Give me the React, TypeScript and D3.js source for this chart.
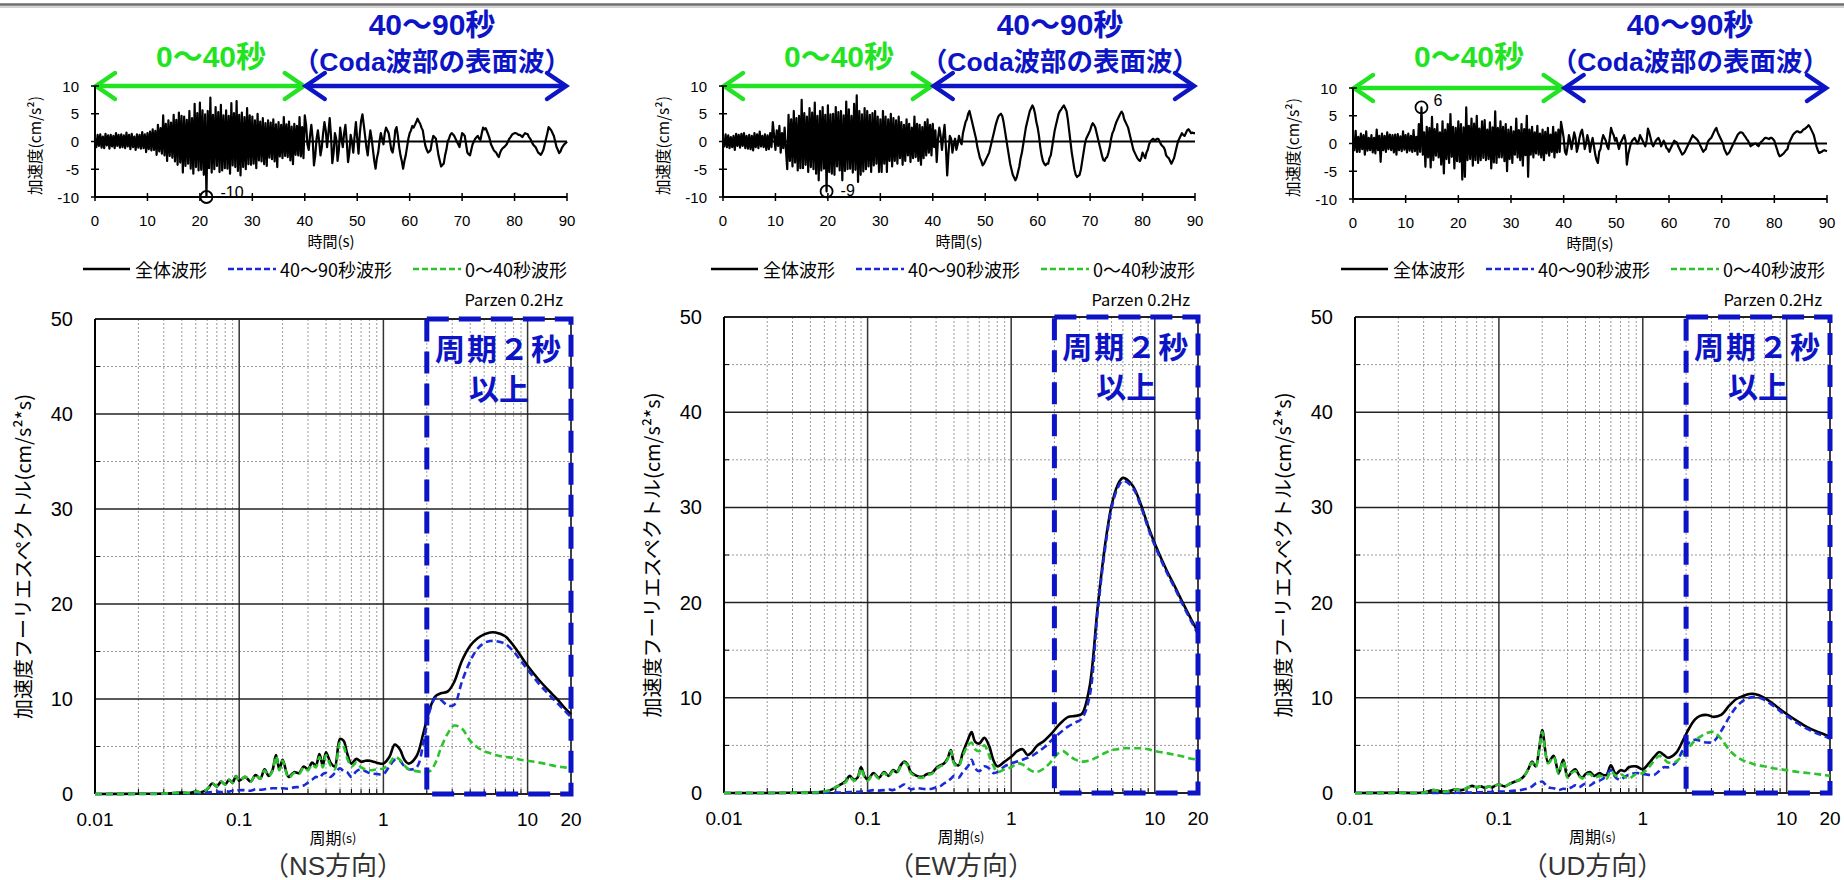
import React from 'react';
import * as d3 from 'd3';

// ---------------- DATA ----------------
const WAVE_DT = 0.25; // s between samples
const WAVE_NS = [
  0.5, -1.0, 1.2, -0.8, 1.3, -1.1, 0.9, -1.2, 1.4, -0.7, 1.1, -1.3, 1.2, -0.9, 1.0, -1.2, 1.5, -0.8, 1.2, -1.1,
  1.3, -1.0, 1.1, -1.2, 1.6, -0.9, 1.2, -1.4, 1.4, -1.0, 0.9, -1.5, 1.3, -1.1, 1.2, -1.3, 1.7, -1.2, 1.3, -1.9,
  1.5, -1.4, 1.8, -1.6, 2.2, -1.5, 1.9, -2.4, 3.0, -1.8, 2.4, -2.2, 4.7, -2.5, 3.2, -3.5, 3.8, -2.6, 3.4, -2.9,
  4.8, -3.6, 3.9, -4.2, 5.2, -3.8, 4.6, -5.6, 4.5, -4.4, 3.9, -4.0, 5.5, -4.9, 4.2, -5.8, 6.8, -4.6, 5.1, -5.2,
  7.0, -5.1, 5.6, -6.0, 4.9, -10.0, 5.5, -4.8, 7.9, -5.6, 4.8, -5.0, 6.2, -4.4, 5.3, -5.5, 6.6, -5.2, 4.7, -4.8,
  5.6, -4.9, 4.6, -5.8, 6.9, -4.3, 5.1, -4.6, 7.3, -5.3, 4.8, -6.1, 5.2, -4.6, 4.4, -5.0, 6.0, -4.1, 4.7, -4.2,
  4.5, -4.0, 3.8, -4.8, 5.0, -3.4, 3.6, -3.6, 4.2, -4.1, 3.3, -4.4, 3.8, -2.9, 3.4, -3.2, 4.0, -3.6, 3.1, -4.6,
  3.5, -2.7, 3.0, -3.0, 4.4, -2.6, 3.1, -2.8, 3.6, -3.4, 2.7, -4.1, 3.2, -2.4, 2.8, -2.5, 4.4, -2.7, 2.6, -3.0,
  4.7, 3.0, -0.5, -1.5, 1.0, 3.0, 0.5, -4.3, -2.5, 0.5, 2.0, 0.0, -2.5, -1.0, 1.5, 3.5, 2.0, -1.0, 1.5, 4.2,
  1.0, -3.9, -2.0, 1.5, 0.5, -3.5, -1.5, 2.5, 0.5, -1.0, 1.5, 3.0, 0.0, -3.7, -2.0, 1.2, 0.0, -2.0, 1.0, 3.5,
  0.5, -2.2, 1.5, 3.8, 4.9, 3.0, 1.0, -1.0, -2.5, 0.0, 2.0, 0.5, -1.5, -3.5, -4.9, -3.0, -2.0, 0.0, 1.5, 0.5,
  -0.5, 1.5, 2.5, 2.0, 1.5, 0.0, -1.5, -2.0, -0.5, 2.0, 2.6, 1.0, -1.0, -2.5, -3.5, -4.9, -3.5, -2.5, -1.0, 0.5,
  1.5, 2.0, 2.8, 2.5, 3.0, 3.5, 4.1, 3.6, 3.2, 2.5, 2.0, 0.5, -0.8, -1.5, -2.0, -1.8, -1.5, 0.0, 1.0, 0.8,
  0.5, -1.0, -2.5, -3.5, -4.5, -4.2, -4.0, -2.5, -1.5, 0.0, 0.5, 1.2, 1.5, 1.3, 1.0, 0.5, 0.0, -0.5, -1.0, 0.3,
  1.5, 1.3, 1.0, -0.5, -2.0, -2.3, -2.5, -1.5, -0.5, 0.0, 0.5, 0.8, 1.0, 0.5, 0.3, 1.5, 2.5, 2.2, 2.4, 1.8,
  1.2, 0.5, -0.5, -1.0, -1.5, -1.8, -2.0, -2.5, -2.8, -2.0, -1.5, -1.2, -1.0, -0.8, -0.5, 0.0, 0.5, 0.8, 1.2, 1.4,
  1.5, 1.5, 1.4, 1.2, 1.2, 1.0, 0.8, 1.2, 1.5, 1.4, 1.3, 0.8, 0.5, 0.0, -0.5, -0.8, -1.0, -1.5, -2.0, -2.2,
  -2.4, -2.0, -1.5, -0.5, 0.5, 1.5, 2.6, 2.3, 2.0, 1.5, 1.0, 0.0, -1.0, -1.5, -2.1, -1.8, -1.2, -0.8, -0.5, -0.3,
  0.0,
];
const WAVE_EW = [
  0.5, -0.9, 1.3, -1.0, 1.1, -1.2, 0.8, -1.0, 1.0, -1.5, 1.4, -0.8, 1.2, -1.1, 1.4, -0.8, 1.5, -1.2, 1.0, -1.3,
  1.2, -1.4, 1.0, -1.6, 1.5, -1.0, 1.3, -1.2, 1.8, -0.9, 1.0, -1.0, 1.3, -1.5, 1.1, -1.4, 1.5, -1.0, 3.5, 1.0,
  -1.5, 2.0, -0.8, 2.8, -2.0, 1.5, -1.2, 2.5, -1.5, -5.0, 4.8, -3.5, 4.0, -4.5, 5.5, -3.8, 4.2, -5.2, 4.6, -4.8,
  7.5, -4.8, 5.1, -4.2, 4.5, -5.5, 6.0, -4.6, 5.2, -5.0, 7.0, -5.8, 4.6, -7.0, 5.5, -5.2, 6.2, -4.9, 4.8, -9.0,
  6.5, -5.5, 4.9, -5.8, 5.0, -6.0, 6.2, -4.5, 5.3, -5.2, 5.5, -7.0, 4.7, -5.3, 7.2, -5.0, 5.8, -4.9, 4.6, -5.6,
  6.8, -5.1, 8.3, -7.3, 5.5, -6.0, 4.9, -5.4, 6.0, -5.0, 5.5, -4.5, 4.8, -5.5, 5.1, -4.3, 5.5, -4.0, 4.5, -5.5,
  4.0, -5.5, 5.5, -4.0, 4.5, -5.5, 4.0, -3.5, 5.0, -4.5, 4.2, -3.5, 3.8, -4.0, 4.5, -3.0, 3.5, -4.2, 3.0, -3.5,
  4.0, -2.5, 3.2, -3.7, 2.5, -3.0, 4.5, -2.8, 3.2, -3.5, 3.0, -4.2, 2.6, -3.0, 3.5, -2.5, 4.0, -2.0, 3.0, -2.5,
  3.2, -1.0, 2.0, -3.7, 0.5, 2.5, 1.0, -1.5, 1.0, 3.0, -1.0, -6.1, -2.0, 1.0, 0.5, -2.0, -0.5, 0.5, -1.5, -0.5,
  1.0, 0.0, -0.5, 1.5, 2.5, 3.5, 4.0, 5.0, 5.5, 4.5, 3.5, 2.5, 1.5, 0.5, -1.0, -2.0, -3.0, -3.5, -4.3, -4.0,
  -3.5, -3.0, -2.5, -2.0, -1.0, 0.0, 1.0, 2.0, 3.0, 3.8, 4.5, 4.8, 5.0, 4.6, 3.5, 2.0, 0.5, -1.0, -2.5, -4.0,
  -5.0, -6.0, -6.5, -7.0, -6.5, -5.5, -4.5, -3.0, -2.0, -0.5, 1.0, 2.5, 3.5, 4.5, 5.5, 6.0, 6.5, 6.0, 5.0, 3.5,
  2.5, 1.0, -1.0, -2.5, -3.5, -4.0, -4.3, -4.0, -4.0, -3.0, -2.5, -1.0, 0.5, 2.0, 3.0, 4.0, 5.0, 5.5, 5.8, 6.2,
  6.5, 6.0, 5.5, 4.0, 2.0, 0.0, -2.0, -3.5, -5.0, -6.0, -6.4, -6.2, -6.0, -5.0, -3.5, -2.0, -0.5, 0.5, 1.0, 1.5,
  2.0, 2.8, 3.3, 3.0, 2.5, 1.5, 0.5, -0.5, -1.5, -2.5, -3.3, -3.5, -3.0, -2.8, -2.0, -1.0, 0.5, 1.5, 2.0, 2.8,
  3.5, 4.0, 4.5, 5.0, 5.4, 5.0, 4.0, 3.5, 3.0, 2.5, 1.5, 0.5, -0.5, -1.5, -2.0, -2.5, -3.0, -3.3, -3.5, -3.0,
  -2.0, -2.5, -3.0, -2.0, -1.5, -0.5, 0.0, 0.3, 0.5, 0.3, 0.3, 0.5, 0.5, 0.0, -0.5, -0.8, -1.0, -1.5, -2.5, -2.8,
  -3.0, -3.5, -4.0, -3.5, -3.0, -2.0, -1.0, 0.0, 0.5, 1.0, 1.5, 1.2, 1.0, 1.5, 2.0, 2.2, 1.9, 1.5, 1.6, 1.5,
  1.5,
];
const WAVE_UD = [
  0.5, -1.2, 2.3, -1.5, 1.2, -1.5, 1.8, -1.0, 1.5, -2.0, 2.2, -1.3, 1.0, -1.2, 1.5, -1.6, 1.0, -1.8, 2.5, -1.2,
  1.4, -3.3, 1.8, -1.2, 1.4, -1.5, 2.0, -1.0, 1.6, -1.2, 1.5, -1.6, 1.6, -2.0, 1.7, -1.2, 1.3, -1.4, 2.2, -1.1,
  1.5, -1.6, 1.8, -1.3, 1.4, -1.5, 2.4, -1.4, 1.2, -2.0, 3.5, -1.5, 6.5, -2.0, 2.0, -4.2, 3.0, -2.5, 2.8, -4.3,
  4.8, -3.0, 2.6, -2.2, 3.5, -2.5, 2.0, -3.8, 4.0, -5.4, 2.5, -2.8, 3.5, -3.5, 5.3, -2.4, 3.0, -4.5, 2.8, -3.2,
  4.0, -3.3, 3.5, -6.5, 2.9, -6.0, 6.5, -3.0, 3.2, -2.8, 4.5, -4.0, 3.6, -3.0, 5.0, -3.5, 2.7, -3.0, 4.0, -2.6,
  4.2, -3.0, 2.5, -2.8, 3.8, -4.5, 2.9, -3.4, 5.8, -3.5, 2.8, -2.5, 4.0, -2.5, 3.0, -3.2, 3.5, -5.0, 2.5, -2.8,
  3.0, -3.5, 2.2, -2.0, 4.5, -2.5, 2.4, -3.0, 3.5, -4.0, 2.6, -2.1, 5.0, -6.0, 2.5, -2.0, 3.0, -2.5, 2.0, -1.8,
  3.2, -2.0, 1.8, -2.5, 2.5, -3.0, 2.1, -1.8, 2.8, -2.2, 1.6, -1.5, 3.0, -2.5, 2.0, -1.6, 2.5, -1.5, 3.9, 2.5,
  1.0, -1.5, -2.0, -0.5, 1.5, 0.5, -1.0, 0.5, 2.0, 1.0, -1.5, -0.5, 1.0, 2.0, 2.5, 1.0, -1.0, 0.0, 1.5, 0.5,
  -1.5, 0.0, 1.0, -0.5, -2.0, -3.0, -3.5, -1.5, -1.0, 0.5, 1.5, 1.0, 0.5, -0.5, -1.0, 1.0, 2.8, 2.0, 1.5, 0.5,
  1.0, 0.0, -1.0, 0.0, 0.5, 1.0, 1.5, 0.5, -3.8, -2.0, -1.0, 0.0, 0.5, 0.8, 1.0, 0.5, 0.0, 0.5, 1.5, 1.0,
  0.5, 0.0, -0.5, 0.5, 2.7, 2.0, 1.0, 0.0, -0.5, 0.0, 0.5, 0.8, 1.0, 0.5, -0.5, 0.0, 0.5, 0.0, -0.8, -1.0,
  -1.5, -1.0, -0.5, 0.0, 0.5, 0.3, 0.2, -0.5, -1.0, -1.5, -2.0, -1.8, -1.5, -1.0, -0.5, 0.0, 0.5, 1.0, 1.5, 1.2,
  1.0, 0.8, 0.5, 0.0, -0.5, -1.0, -1.5, -1.2, -1.0, 0.0, 0.5, 0.8, 1.0, 1.5, 2.0, 2.5, 2.8, 2.0, 1.5, 1.0,
  0.5, 0.0, -1.0, -1.5, -2.0, -1.8, -1.5, -1.0, -0.5, 0.0, 0.5, 1.0, 1.5, 1.8, 2.0, 2.0, 1.9, 1.5, 1.2, 0.8,
  0.5, 0.0, -0.5, -0.3, -0.2, 0.0, 0.0, -0.3, -0.5, 0.0, 0.3, 0.5, 0.8, 1.0, 1.0, 0.9, 0.8, 1.0, 1.0, 0.8,
  0.5, -0.3, -1.0, -1.8, -2.3, -2.2, -2.0, -1.8, -1.5, -1.2, -1.0, 0.0, 0.5, 1.0, 1.5, 1.8, 2.0, 2.2, 2.2, 2.0,
  2.0, 2.2, 2.5, 2.6, 2.8, 3.0, 3.3, 3.0, 2.5, 2.0, 1.5, 0.5, -0.5, -1.2, -1.7, -1.6, -1.5, -1.3, -1.2, -1.3,
  -1.4,
];
const WAVE_X_TICKS = [0, 10, 20, 30, 40, 50, 60, 70, 80, 90];
const WAVE_Y_TICKS = [10, 5, 0, -5, -10];
// peak markers: time (s), value, label
const PEAK_NS = { t: 21.25, v: -10, label: '-10' };
const PEAK_EW = { t: 19.75, v: -9, label: '-9' };
const PEAK_UD = { t: 13, v: 6.5, label: '6' };

const PERIODS = [
  0.01, 0.02, 0.03, 0.035, 0.04, 0.045, 0.05, 0.055, 0.06, 0.065,
  0.07, 0.075, 0.08, 0.085, 0.09, 0.095, 0.1, 0.11, 0.12, 0.13,
  0.14, 0.15, 0.16, 0.17, 0.18, 0.19, 0.2, 0.22, 0.24, 0.26,
  0.28, 0.3, 0.32, 0.34, 0.36, 0.38, 0.4, 0.43, 0.46, 0.5,
  0.53, 0.56, 0.6, 0.65, 0.7, 0.75, 0.8, 0.9, 1.0, 1.1,
  1.2, 1.3, 1.4, 1.5, 1.7, 1.9, 2.1, 2.3, 2.5, 2.8,
  3.1, 3.5, 4, 4.5, 5, 5.5, 6, 7, 8, 9,
  10, 12, 14, 16, 18, 20,
];
const NS_ALL = [
  0, 0.02, 0.05, 0.1, 0.15, 0.1, 0.25, 0.2, 0.5, 1.1,
  0.8, 1.3, 1.0, 1.5, 1.2, 1.9, 1.4, 1.8, 1.3, 2.0,
  1.6, 2.6, 1.9, 2.5, 4.1, 2.6, 3.6, 1.8, 2.3, 2.2,
  2.9, 2.6, 3.3, 3.0, 4.2, 3.0, 4.4, 3.3, 2.9, 5.8,
  5.6, 4.3, 3.2, 3.7, 3.4, 3.5, 3.5, 3.3, 3.2, 3.9,
  5.2, 4.7, 3.6, 3.2, 4.0, 6.5, 9.0, 10.3, 10.6, 10.8,
  11.8, 14.0, 15.6, 16.4, 16.8, 17.0, 17.0, 16.6, 15.6, 14.5,
  13.5, 12.0, 10.9, 10.0, 9.1, 8.4,
];
const NS_LATE = [
  0, 0, 0.02, 0.05, 0.05, 0.05, 0.1, 0.1, 0.15, 0.2,
  0.25, 0.2, 0.3, 0.25, 0.35, 0.3, 0.4, 0.4, 0.35, 0.5,
  0.45, 0.5, 0.55, 0.6, 0.6, 0.55, 0.6, 0.55, 0.7, 0.75,
  0.9, 1.2, 1.5, 1.8, 1.7, 2.1, 2.2, 1.8, 2.2, 2.7,
  2.4, 2.3, 1.8, 2.4, 2.6, 2.4, 2.2, 2.1, 2.1, 2.9,
  3.6, 3.5, 2.9, 2.6, 2.8, 5.5, 8.8, 10.1, 9.9, 9.3,
  9.4, 11.8, 14.0, 15.3, 15.9, 16.1, 16.1, 15.8, 15.0, 14.0,
  13.1, 11.6, 10.5, 9.6, 8.8, 8.1,
];
const NS_EARLY = [
  0, 0.02, 0.05, 0.1, 0.15, 0.1, 0.25, 0.2, 0.5, 1.1,
  0.8, 1.3, 1.0, 1.5, 1.2, 1.9, 1.4, 1.8, 1.3, 2.0,
  1.6, 2.5, 1.9, 2.4, 4.0, 2.5, 3.5, 1.7, 2.2, 2.1,
  2.8, 2.5, 3.1, 2.8, 3.9, 2.8, 4.1, 3.0, 2.6, 5.4,
  5.0, 3.8, 2.9, 3.3, 2.8, 2.6, 2.5, 2.6, 2.7, 3.2,
  3.9, 3.6, 3.0, 2.6, 2.4, 2.3, 2.4, 3.3, 4.8, 6.4,
  7.2, 6.9, 5.6, 4.9, 4.5, 4.3, 4.1, 3.9, 3.8, 3.6,
  3.5, 3.3, 3.1, 2.9, 2.8, 2.7,
];
const EW_ALL = [
  0, 0, 0.02, 0.03, 0.05, 0.08, 0.15, 0.3, 0.6, 0.9,
  1.2, 1.8, 1.4, 1.6, 2.7, 1.8, 1.4, 2.1, 1.6, 2.2,
  1.8, 2.4, 2.2, 2.9, 3.3, 3.0, 2.2, 1.8, 1.7, 2.0,
  2.1, 2.6, 2.9, 3.1, 3.6, 4.5, 3.2, 2.9, 4.2, 5.6,
  6.4, 5.4, 5.2, 5.8, 5.0, 3.5, 2.8, 3.3, 3.8, 4.4,
  4.6, 4.0, 4.3, 4.9, 5.5, 6.2, 7.0, 7.6, 8.0, 8.1,
  8.3, 11.0, 19.5, 26.0, 30.2, 32.3, 33.1, 32.3, 30.3, 28.0,
  26.2, 23.5, 21.5, 19.7, 18.2, 16.9,
];
const EW_LATE = [
  0, 0, 0, 0, 0, 0, 0.02, 0.03, 0.05, 0.05,
  0.08, 0.1, 0.1, 0.12, 0.15, 0.15, 0.2, 0.3, 0.25, 0.3,
  0.4, 0.3, 0.5, 0.7, 0.9, 0.6, 0.4, 0.5, 0.45, 0.4,
  0.45, 0.6, 0.7, 1.0, 1.2, 1.5, 1.8, 1.6, 2.2, 2.8,
  3.5, 2.6, 2.3, 2.8, 2.6, 2.1, 2.2, 2.8, 3.1, 3.3,
  3.5, 3.7, 3.9, 4.2, 4.8, 5.5, 6.1, 6.6, 7.0, 7.4,
  7.8, 10.0, 19.0, 25.6, 29.9, 32.0, 32.8, 32.1, 30.1, 27.8,
  26.0, 23.3, 21.3, 19.5, 18.0, 16.7,
];
const EW_EARLY = [
  0, 0, 0.02, 0.03, 0.05, 0.08, 0.15, 0.3, 0.6, 0.9,
  1.1, 1.7, 1.3, 1.5, 2.6, 1.7, 1.3, 2.0, 1.5, 2.1,
  1.7, 2.3, 2.1, 2.8, 3.2, 2.9, 2.1, 1.7, 1.6, 1.9,
  2.0, 2.5, 2.8, 3.0, 3.5, 4.4, 3.1, 2.8, 3.9, 5.0,
  5.3, 4.6, 4.4, 5.0, 4.0, 2.9, 2.2, 2.5, 2.7, 3.1,
  3.0, 2.6, 2.3, 2.2, 2.6, 3.3, 4.1, 4.4, 4.0, 3.5,
  3.3, 3.4, 3.8, 4.2, 4.5, 4.6, 4.7, 4.7, 4.7, 4.6,
  4.4, 4.2, 4.0, 3.8, 3.6, 3.5,
];
const UD_ALL = [
  0, 0.02, 0.05, 0.3, 0.15, 0.2, 0.4, 0.3, 0.5, 0.75,
  0.6, 0.7, 0.55, 0.7, 0.6, 0.8, 0.9, 0.7, 1.0, 1.2,
  1.4, 1.8, 2.5, 3.3, 2.8, 4.5, 6.6, 3.2, 3.9, 2.1,
  3.5, 1.7, 2.2, 2.5, 1.9, 1.6, 2.0, 2.2, 1.8, 2.1,
  1.9, 1.9, 2.9, 2.0, 2.4, 2.3, 2.7, 2.8, 2.5, 3.1,
  3.8, 4.3, 4.0, 3.7, 4.2, 5.5, 6.8, 7.7, 8.1, 8.2,
  8.0, 8.2, 9.2, 9.9, 10.2, 10.4, 10.4, 10.0, 9.4, 8.8,
  8.3, 7.5, 6.9, 6.5, 6.2, 5.9,
];
const UD_LATE = [
  0, 0, 0, 0, 0, 0, 0.02, 0.02, 0.05, 0.05,
  0.08, 0.08, 0.1, 0.1, 0.12, 0.12, 0.15, 0.15, 0.2, 0.25,
  0.3, 0.4, 0.5, 0.7, 1.0, 1.1, 1.2, 0.6, 0.5, 0.3,
  0.45, 0.4, 0.6, 0.8, 0.6, 0.8, 1.0, 0.8, 1.1, 1.3,
  1.5, 1.9, 2.4, 1.6, 1.4, 1.7, 1.9, 2.1, 2.0, 1.9,
  1.9, 2.3, 2.7, 2.7, 3.2, 4.5, 5.3, 5.6, 5.5, 5.3,
  5.4, 6.5, 8.0, 9.1, 9.7, 10.0, 10.1, 9.8, 9.2, 8.6,
  8.1, 7.3, 6.7, 6.3, 6.0, 5.7,
];
const UD_EARLY = [
  0, 0.02, 0.05, 0.3, 0.15, 0.2, 0.4, 0.3, 0.5, 0.75,
  0.6, 0.7, 0.55, 0.7, 0.6, 0.8, 0.9, 0.7, 1.0, 1.2,
  1.4, 1.8, 2.5, 3.2, 2.7, 4.4, 6.4, 3.1, 3.8, 2.0,
  3.4, 1.6, 2.1, 2.3, 1.8, 1.5, 1.9, 2.0, 1.6, 1.8,
  1.7, 1.5, 2.3, 1.8, 2.0, 1.7, 1.5, 2.0, 2.1, 2.7,
  3.4, 3.9, 3.6, 3.2, 3.3, 4.0, 4.8, 5.5, 5.9, 6.3,
  6.4, 5.7, 4.5, 3.8, 3.4, 3.2, 3.0, 2.8, 2.6, 2.5,
  2.4, 2.2, 2.1, 2.0, 1.9, 1.8,
];
const SPEC_X_TICKS = [0.01, 0.1, 1, 10, 20];
const SPEC_X_LABELS = ['0.01', '0.1', '1', '10', '20'];
const SPEC_Y_TICKS = [0, 10, 20, 30, 40, 50];
const SPEC_Y_MINOR = [5, 15, 25, 35, 45];
const BOX_PERIOD = [2, 20];
const DIRECTIONS = ['（NS方向）', '（EW方向）', '（UD方向）'];
const LEGEND_LABELS = ['全体波形', '40～90秒波形', '0～40秒波形'];
const EARLY_RANGE = [0, 40];
const LATE_RANGE = [40, 90];

// ---------------- STYLE / LAYOUT ----------------
const FONT_JP = "'Noto Sans CJK JP', 'Noto Sans', sans-serif";
const FONT_MIX = "'Liberation Sans', 'Noto Sans CJK JP', sans-serif";
const GREEN = '#22e322';
const BLUE = '#0c14c6';
const LINE_BLUE = '#1a2ad6';
const LINE_GREEN = '#2cc42c';

const PANELS = [
  { wave: [95, 567, 86, 197], spec: [95, 571, 319, 794], waveData: WAVE_NS, peak: PEAK_NS, all: NS_ALL, late: NS_LATE, early: NS_EARLY, peakDx: 14, peakDy: 1 },
  { wave: [723, 1195, 86, 197], spec: [724, 1198, 317, 793], waveData: WAVE_EW, peak: PEAK_EW, all: EW_ALL, late: EW_LATE, early: EW_EARLY, peakDx: 14, peakDy: 5 },
  { wave: [1353, 1827, 88, 199], spec: [1355, 1830, 317, 793], waveData: WAVE_UD, peak: PEAK_UD, all: UD_ALL, late: UD_LATE, early: UD_EARLY, peakDx: 12, peakDy: -1 },
];

function Arrow({ x1, x2, y, color }: { x1: number; x2: number; y: number; color: string }) {
  const ah = 20, av = 13;
  return (
    <g stroke={color} strokeWidth={4.5} strokeLinecap="round" fill="none">
      <line x1={x1 + 2} x2={x2 - 2} y1={y} y2={y} />
      <polyline points={`${x1 + ah},${y - av} ${x1 + 1},${y} ${x1 + ah},${y + av}`} strokeLinejoin="miter" />
      <polyline points={`${x2 - ah},${y - av} ${x2 - 1},${y} ${x2 - ah},${y + av}`} strokeLinejoin="miter" />
    </g>
  );
}

function Panel({ p, i }: { p: typeof PANELS[number]; i: number }) {
  const [wx0, wx1, wy0, wy1] = p.wave;
  const wx = d3.scaleLinear().domain([0, 90]).range([wx0, wx1]);
  const wy = d3.scaleLinear().domain([-10, 10]).range([wy1, wy0]);
  const waveLine = d3.line<number>().x((_, k) => wx(k * WAVE_DT)).y((d) => wy(d));

  const [sx0, sx1, sy0, sy1] = p.spec;
  const sx = d3.scaleLog().domain([0.01, 20]).range([sx0, sx1]);
  const sy = d3.scaleLinear().domain([0, 50]).range([sy1, sy0]);
  const specLine = d3
    .line<number>()
    .x((_, k) => sx(PERIODS[k]))
    .y((d) => sy(d))
    .curve(d3.curveCatmullRom.alpha(0.5));
  const allTicks = sx.ticks(30).filter((t) => t > 0.0100001 && t < 19.99);
  const majorX = [0.1, 1, 10];
  const minorX = allTicks.filter((t) => !majorX.some((m) => Math.abs(m - t) < 1e-9));

  const pk = p.peak;
  const midSpec = (sx0 + sx1) / 2;
  const bx0 = sx(BOX_PERIOD[0]);
  const bx1 = sx(BOX_PERIOD[1]);

  return (
    <g>
      {/* headings */}
      <text x={wx0 + 116} y={56} fill={GREEN} fontFamily={FONT_MIX} fontWeight="bold" fontSize={30} textAnchor="middle" dominantBaseline="central">0～40秒</text>
      <text x={wx0 + 337} y={24} fill={BLUE} fontFamily={FONT_MIX} fontWeight="bold" fontSize={30} textAnchor="middle" dominantBaseline="central">40～90秒</text>
      <text x={wx0 + 337} y={62} fill={BLUE} fontFamily={FONT_MIX} fontWeight="bold" fontSize={26.5} textAnchor="middle" dominantBaseline="central">（Coda波部の表面波）</text>
      <Arrow x1={wx(EARLY_RANGE[0])} x2={wx(EARLY_RANGE[1])} y={wy0} color={GREEN} />
      <Arrow x1={wx(LATE_RANGE[0])} x2={wx(LATE_RANGE[1])} y={wy0} color={BLUE} />

      {/* waveform */}
      <path d={waveLine(p.waveData) || ''} fill="none" stroke="#000" strokeWidth={2.2} strokeLinejoin="round" />
      <line x1={wx0} x2={wx1} y1={wy(0)} y2={wy(0)} stroke="#000" strokeWidth={2} />
      <line x1={wx0} x2={wx0} y1={wy0} y2={wy1} stroke="#000" strokeWidth={2} />
      <line x1={wx0} x2={wx1} y1={wy1} y2={wy1} stroke="#000" strokeWidth={2} />
      {WAVE_Y_TICKS.map((t) => (
        <g key={'wy' + t}>
          <line x1={wx0 - 4} x2={wx0 + 4} y1={wy(t)} y2={wy(t)} stroke="#000" strokeWidth={1.5} />
          <text x={wx0 - 16} y={wy(t)} fontFamily={FONT_MIX} fontSize={15} textAnchor="end" dominantBaseline="central">{t}</text>
        </g>
      ))}
      {WAVE_X_TICKS.map((t) => (
        <g key={'wx' + t}>
          <line x1={wx(t)} x2={wx(t)} y1={wy1 - 4} y2={wy1 + 4} stroke="#000" strokeWidth={1.5} />
          <text x={wx(t)} y={wy1 + 23} fontFamily={FONT_MIX} fontSize={15} textAnchor="middle" dominantBaseline="central">{t}</text>
        </g>
      ))}
      <text x={(wx0 + wx1) / 2} y={wy1 + 43} fontFamily={FONT_JP} fontSize={15} textAnchor="middle" dominantBaseline="central">時間(s)</text>
      <text transform={`translate(${wx0 - 61},${(wy0 + wy1) / 2 + 4}) rotate(-90)`} fontFamily={FONT_JP} fontSize={15.5} textAnchor="middle" dominantBaseline="central">加速度(cm/s²)</text>
      <circle cx={wx(pk.t)} cy={wy(pk.v)} r={6} fill="none" stroke="#000" strokeWidth={1.8} />
      <text x={wx(pk.t) + p.peakDx} y={wy(pk.v) + p.peakDy} fontFamily={FONT_MIX} fontSize={16} dominantBaseline="alphabetic">{pk.label}</text>

      {/* legend */}
      <g fontFamily={FONT_JP} fontSize={18}>
        <line x1={wx0 - 12} x2={wx0 + 35} y1={269} y2={269} stroke="#000" strokeWidth={2.5} />
        <text x={wx0 + 40} y={269} dominantBaseline="central">{LEGEND_LABELS[0]}</text>
        <line x1={wx0 + 133} x2={wx0 + 181} y1={269} y2={269} stroke={LINE_BLUE} strokeWidth={2.5} strokeDasharray="6 3" />
        <text x={wx0 + 185} y={269} dominantBaseline="central">{LEGEND_LABELS[1]}</text>
        <line x1={wx0 + 318} x2={wx0 + 366} y1={269} y2={269} stroke={LINE_GREEN} strokeWidth={2.5} strokeDasharray="6 3" />
        <text x={wx0 + 370} y={269} dominantBaseline="central">{LEGEND_LABELS[2]}</text>
      </g>
      <text x={sx1 - 8} y={299} fontFamily={FONT_JP} fontSize={16.5} textAnchor="end" dominantBaseline="central">Parzen 0.2Hz</text>

      {/* spectrum grid */}
      {minorX.map((t) => (
        <g key={'mx' + t}>
          <line x1={sx(t)} x2={sx(t)} y1={sy0} y2={sy1} stroke="#9a9a9a" strokeWidth={1} strokeDasharray="2 2" />
          <line x1={sx(t)} x2={sx(t)} y1={sy1 - 5} y2={sy1} stroke="#000" strokeWidth={1} />
        </g>
      ))}
      {SPEC_Y_MINOR.map((t) => (
        <g key={'my' + t}>
          <line x1={sx0} x2={sx1} y1={sy(t)} y2={sy(t)} stroke="#9a9a9a" strokeWidth={1} strokeDasharray="2 2" />
          <line x1={sx0} x2={sx0 + 5} y1={sy(t)} y2={sy(t)} stroke="#000" strokeWidth={1} />
        </g>
      ))}
      {majorX.map((t) => (
        <line key={'Mx' + t} x1={sx(t)} x2={sx(t)} y1={sy0} y2={sy1} stroke="#333" strokeWidth={1.5} />
      ))}
      {SPEC_Y_TICKS.map((t) => (
        <g key={'My' + t}>
          <line x1={sx0} x2={sx1} y1={sy(t)} y2={sy(t)} stroke="#222" strokeWidth={t === 0 || t === 50 ? 2 : 1.5} />
          <text x={sx0 - 22} y={sy(t)} fontFamily={FONT_MIX} fontSize={20} textAnchor="end" dominantBaseline="central">{t}</text>
        </g>
      ))}
      <line x1={sx0} x2={sx0} y1={sy0} y2={sy1} stroke="#000" strokeWidth={2} />
      <line x1={sx1} x2={sx1} y1={sy0} y2={sy1} stroke="#000" strokeWidth={1.5} />
      {SPEC_X_TICKS.map((t, k) => (
        <text key={'sx' + t} x={sx(t)} y={sy1 + 25} fontFamily={FONT_MIX} fontSize={19} textAnchor="middle" dominantBaseline="central">{SPEC_X_LABELS[k]}</text>
      ))}
      <text x={midSpec} y={sy1 + 43} fontFamily={FONT_JP} fontSize={16} textAnchor="middle" dominantBaseline="central">周期<tspan fontSize={13}>(s)</tspan></text>
      <text x={midSpec} y={875} fontFamily={FONT_MIX} fontSize={26} fill="#333" textAnchor="middle">{DIRECTIONS[i]}</text>
      <text transform={`translate(${sx0 - 73},${(sy0 + sy1) / 2}) rotate(-90)`} fontFamily={FONT_JP} fontSize={20} textAnchor="middle" dominantBaseline="central">加速度フーリエスペクトル(cm/s²*s)</text>

      {/* spectra */}
      <path d={specLine(p.all) || ''} fill="none" stroke="#000" strokeWidth={2.6} />
      <path d={specLine(p.late) || ''} fill="none" stroke={LINE_BLUE} strokeWidth={2.6} strokeDasharray="7 4" />
      <path d={specLine(p.early) || ''} fill="none" stroke={LINE_GREEN} strokeWidth={2.6} strokeDasharray="7 4" />

      {/* box */}
      <rect x={bx0} y={sy0} width={bx1 - bx0} height={sy1 - sy0} fill="none" stroke={BLUE} strokeWidth={5} strokeDasharray="22 10" />
      <text x={(bx0 + bx1) / 2} y={sy0 + 28} fill={BLUE} fontFamily={FONT_JP} fontWeight="bold" fontSize={30} letterSpacing={2} textAnchor="middle" dominantBaseline="central">周期２秒</text>
      <text x={(bx0 + bx1) / 2} y={sy0 + 68} fill={BLUE} fontFamily={FONT_JP} fontWeight="bold" fontSize={30} textAnchor="middle" dominantBaseline="central">以上</text>
    </g>
  );
}

export default function App() {
  return (
    <svg width={1844} height={880} style={{ position: 'absolute', left: 0, top: 0, display: 'block', background: '#fff' }}>
      <rect x={0} y={0} width={1844} height={880} fill="#fff" />
      <line x1={0} x2={1844} y1={4.5} y2={4.5} stroke="#6e6e6e" strokeWidth={2.5} />
      <line x1={0} x2={1844} y1={7} y2={7} stroke="#c4c4c4" strokeWidth={1.5} />
      {PANELS.map((p, i) => (
        <Panel key={i} p={p} i={i} />
      ))}
    </svg>
  );
}
